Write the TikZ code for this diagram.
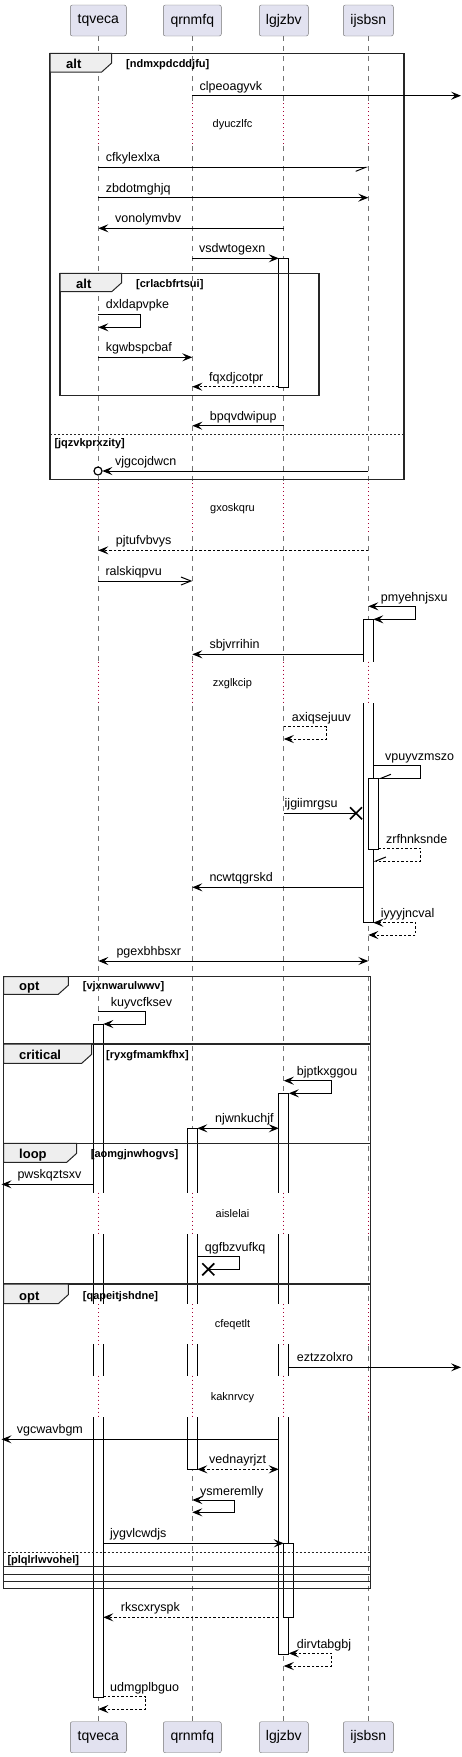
\documentclass[tikz,border=0pt]{standalone}
\usepackage{fontspec}
\setmainfont{Liberation Sans}
\usetikzlibrary{arrows.meta}
\definecolor{actorfill}{RGB}{226,226,240}
\definecolor{delayred}{RGB}{168,0,54}
\definecolor{tabfill}{RGB}{238,238,238}
\tikzstyle{actor}    = [draw=black!55, fill=actorfill, rounded corners=2pt, minimum height=31pt, inner sep=0pt, font=\fontsize{14}{16}\selectfont]
\tikzstyle{lifeline} = [draw=black!55, line width=0.8pt, dash pattern=on 5pt off 5pt]
\tikzstyle{gap}      = [draw=delayred, line width=1pt, dash pattern=on 1pt off 3pt]
\tikzstyle{actbar}   = [draw, fill=white, line width=1pt]
\tikzstyle{msg}      = [line width=1pt, ->]
\tikzstyle{reply}    = [msg, dash pattern=on 2.5pt off 2pt]
\tikzstyle{openmsg}  = [line width=1pt, -{Straight Barb[length=10pt,width=8pt]}]
\tikzstyle{halfmsg}  = [line width=1pt, -{Straight Barb[right,length=10pt,width=8pt]}]
\tikzstyle{lbl}      = [anchor=base west, inner sep=0pt, font=\fontsize{12.5}{14}\selectfont]
\tikzstyle{delaytxt} = [inner sep=0pt, font=\fontsize{11}{13}\selectfont]
\tikzstyle{frame}    = [draw=black!85, line width=1.5pt]
\tikzstyle{tab}      = [draw=black!85, fill=tabfill, line width=1pt]
\tikzstyle{kind}     = [anchor=base west, inner sep=0pt, font=\bfseries\fontsize{13}{15}\selectfont]
\tikzstyle{guard}    = [anchor=base west, inner sep=0pt, font=\bfseries\fontsize{11}{13}\selectfont]
\tikzstyle{elseline} = [draw=black!85, line width=0.8pt, dash pattern=on 2pt off 2pt]
\tikzstyle{destroy}  = [line width=1.6pt]

\begin{document}
\begin{tikzpicture}[x=1pt, y=-1pt, >={Stealth[length=10pt,width=8pt,inset=4pt]}]
    \useasboundingbox (0,0) rectangle (462,1757);

    \node[actor, minimum width=56pt] (tqveca) at (98.3,20.5) {tqveca};
    \node[actor, minimum width=58pt] (qrnmfq) at (192.3,20.5) {qrnmfq};
    \node[actor, minimum width=49pt] (lgjzbv) at (283.8,20.5) {lgjzbv};
    \node[actor, minimum width=50pt] (ijsbsn) at (368.3,20.5) {ijsbsn};
    \node[actor, minimum width=56pt] (tqveca2) at (98.3,1737.2) {tqveca};
    \node[actor, minimum width=58pt] (qrnmfq2) at (192.3,1737.2) {qrnmfq};
    \node[actor, minimum width=49pt] (lgjzbv2) at (283.8,1737.2) {lgjzbv};
    \node[actor, minimum width=50pt] (ijsbsn2) at (368.3,1737.2) {ijsbsn};

    \draw[lifeline] (tqveca) -- (tqveca2);
    \draw[lifeline] (qrnmfq) -- (qrnmfq2);
    \draw[lifeline] (lgjzbv) -- (lgjzbv2);
    \draw[lifeline] (ijsbsn) -- (ijsbsn2);

    \draw[actbar] (278.8,258.3) rectangle (288.8,387.3);
    \draw[actbar] (363.3,619.3) rectangle (373.3,922.7);
    \draw[actbar] (368.3,778.3) rectangle (378.3,849);
    \draw[actbar] (93.3,1024) rectangle (103.3,1697.3);
    \draw[actbar] (278.8,1093.3) rectangle (288.8,1654);
    \draw[actbar] (187.3,1128.3) rectangle (197.3,1469);
    \draw[actbar] (283.8,1543.3) rectangle (293.8,1617.3);

    \fill[white] (0,103.3) rectangle (462,145);
    \fill[white] (0,483.3) rectangle (462,533.3);
    \fill[white] (0,661.7) rectangle (462,703.3);
    \fill[white] (0,1192.7) rectangle (462,1234);
    \fill[white] (0,1304) rectangle (462,1344.3);
    \fill[white] (0,1375.7) rectangle (462,1417.3);
    \draw[gap] (98.3,103.3) -- (98.3,145) (192.3,103.3) -- (192.3,145) (283.8,103.3) -- (283.8,145) (368.3,103.3) -- (368.3,145);
    \draw[gap] (98.3,483.3) -- (98.3,533.3) (192.3,483.3) -- (192.3,533.3) (283.8,483.3) -- (283.8,533.3) (368.3,483.3) -- (368.3,533.3);
    \draw[gap] (98.3,661.7) -- (98.3,703.3) (192.3,661.7) -- (192.3,703.3) (283.8,661.7) -- (283.8,703.3) (368.3,661.7) -- (368.3,703.3);
    \draw[gap] (98.3,1192.7) -- (98.3,1234) (192.3,1192.7) -- (192.3,1234) (283.8,1192.7) -- (283.8,1234) (368.3,1192.7) -- (368.3,1234);
    \draw[gap] (98.3,1304) -- (98.3,1344.3) (192.3,1304) -- (192.3,1344.3) (283.8,1304) -- (283.8,1344.3) (368.3,1304) -- (368.3,1344.3);
    \draw[gap] (98.3,1375.7) -- (98.3,1417.3) (192.3,1375.7) -- (192.3,1417.3) (283.8,1375.7) -- (283.8,1417.3) (368.3,1375.7) -- (368.3,1417.3);
    \node[delaytxt] (d1) at (232.5,125) {dyuczlfc};
    \node[delaytxt] (d2) at (232.5,508.3) {gxoskqru};
    \node[delaytxt] (d3) at (232.5,684) {zxglkcip};
    \node[delaytxt] (d4) at (232.5,1214) {aislelai};
    \node[delaytxt] (d5) at (232.5,1324.3) {cfeqetlt};
    \node[delaytxt] (d6) at (232.5,1397.3) {kaknrvcy};

    \draw[frame] (50,53.3) rectangle (404,479.3);
    \draw[tab] (50,53.3) -- (111.7,53.3) -- (111.7,63) -- (101.7,72) -- (50,72) -- cycle;
    \node[kind] (k1) at (66,68.5) {alt};
    \node[guard] (g1) at (126,67.5) {[ndmxpdcddjfu]};
    \draw[elseline] (50,434) -- (404,434);
    \node[guard] (g2) at (54.3,446) {[jqzvkprxzity]};

    \draw[frame] (60,273.3) rectangle (319,395.7);
    \draw[tab] (60,273.3) -- (121.7,273.3) -- (121.7,282.7) -- (111.7,291.7) -- (60,291.7) -- cycle;
    \node[kind] (k2) at (76,288.2) {alt};
    \node[guard] (g3) at (136,287.2) {[crlacbfrtsui]};

    \draw[frame] (3.5,976.7) rectangle (370.5,1588.3);
    \draw[tab] (3.5,976.7) -- (68.3,976.7) -- (68.3,985.3) -- (58.3,994.3) -- (3.5,994.3) -- cycle;
    \node[kind] (k3) at (19,990.8) {opt};
    \node[guard] (g4) at (82.7,989.8) {[vjxnwarulwwv]};

    \draw[frame] (3.5,1044) rectangle (370.5,1581.7);
    \draw[tab] (3.5,1044) -- (91.7,1044) -- (91.7,1054.3) -- (81.7,1063.3) -- (3.5,1063.3) -- cycle;
    \node[kind] (k4) at (19,1059.8) {critical};
    \node[guard] (g5) at (106,1058.8) {[ryxgfmamkfhx]};

    \draw[frame] (3.5,1143.3) rectangle (370.5,1574.3);
    \draw[tab] (3.5,1143.3) -- (76.7,1143.3) -- (76.7,1153.3) -- (66.7,1162.3) -- (3.5,1162.3) -- cycle;
    \node[kind] (k5) at (19,1158.8) {loop};
    \node[guard] (g6) at (90.7,1157.8) {[aomgjnwhogvs]};

    \draw[frame] (3.5,1284) rectangle (370.5,1566.7);
    \draw[tab] (3.5,1284) -- (68.3,1284) -- (68.3,1294.7) -- (58.3,1303.7) -- (3.5,1303.7) -- cycle;
    \node[kind] (k6) at (19,1300.2) {opt};
    \node[guard] (g7) at (82.7,1299.2) {[qapeitjshdne]};
    \draw[elseline] (3.5,1552.3) -- (370.5,1552.3);
    \node[guard] (g8) at (7.3,1563.3) {[plqlrlwvohel]};

    \draw[msg] (192.3,95.7) -- (461,95.7);
    \node[lbl] (m1) at (199.5,90.2) {clpeoagyvk};
    \draw[halfmsg] (98.3,167.3) -- (368.3,167.3);
    \node[lbl] (m2) at (105.7,161.8) {cfkylexlxa};
    \draw[msg] (98.3,197.7) -- (368.3,197.7);
    \node[lbl] (m3) at (105.7,192.2) {zbdotmghjq};
    \draw[msg] (283.8,228.3) -- (98.3,228.3);
    \node[lbl] (m4) at (115,222.8) {vonolymvbv};
    \draw[msg] (192.3,258.3) -- (278.8,258.3);
    \node[lbl] (m5) at (199,252.8) {vsdwtogexn};
    \draw[msg] (98.3,314.3) -- (140.7,314.3) -- (140.7,327.3) -- (98.3,327.3);
    \node[lbl] (m6) at (105.7,308.8) {dxldapvpke};
    \draw[msg] (98.3,357.3) -- (192.3,357.3);
    \node[lbl] (m7) at (105.7,351.8) {kgwbspcbaf};
    \draw[reply] (278.8,386.7) -- (192.3,386.7);
    \node[lbl] (m8) at (209,381.2) {fqxdjcotpr};
    \draw[msg] (283.8,425.7) -- (192.3,425.7);
    \node[lbl] (m9) at (209.7,420.2) {bpqvdwipup};
    \draw[msg] (368.3,471) -- (102.3,471);
    \draw[line width=1.2pt, fill=white] (98,471) circle (4);
    \node[lbl] (m10) at (115,465.5) {vjgcojdwcn};

    \draw[reply] (368.3,550.3) -- (98.3,550.3);
    \node[lbl] (m11) at (115.7,544.8) {pjtufvbvys};
    \draw[openmsg] (98.3,581) -- (192.3,581);
    \node[lbl] (m12) at (105.3,575.5) {ralskiqpvu};
    \draw[msg, <->] (368.3,606.3) -- (415.7,606.3) -- (415.7,619.3) -- (373.3,619.3);
    \node[lbl] (m13) at (380.7,601) {pmyehnjsxu};
    \draw[msg] (363.3,654.3) -- (192.3,654.3);
    \node[lbl] (m14) at (209.3,648.8) {sbjvrrihin};
    \draw[reply] (283.8,726.7) -- (326.7,726.7) -- (326.7,739) -- (283.8,739);
    \node[lbl] (m15) at (291.7,721.5) {axiqsejuuv};
    \draw[halfmsg] (373.3,765.7) -- (420.7,765.7) -- (420.7,778.3) -- (378.3,778.3);
    \node[lbl] (m16) at (385,760.5) {vpuyvzmszo};
    \draw[line width=1pt] (283.8,813.3) -- (356,813.3);
    \draw[destroy] (350,807.3) -- (362,819.3) (350,819.3) -- (362,807.3);
    \node[lbl] (m17) at (284.5,807.8) {ijgiimrgsu};
    \draw[halfmsg, dash pattern=on 2.5pt off 2pt] (378.3,848.3) -- (420.7,848.3) -- (420.7,861) -- (373.3,861);
    \node[lbl] (m18) at (386,843) {zrfhnksnde};
    \draw[msg] (363.3,887.3) -- (192.3,887.3);
    \node[lbl] (m19) at (209.3,881.8) {ncwtqgrskd};
    \draw[reply, <->] (373.3,922.7) -- (415.7,922.7) -- (415.7,935) -- (368.3,935);
    \node[lbl] (m20) at (380.7,917.5) {iyyyjncval};
    \draw[msg, <->] (98.3,961) -- (368.3,961);
    \node[lbl] (m21) at (116.3,955.5) {pgexbhbsxr};

    \draw[msg] (98.3,1011.3) -- (145.7,1011.3) -- (145.7,1024) -- (103.3,1024);
    \node[lbl] (m22) at (110.7,1006) {kuyvcfksev};
    \draw[msg, <->] (283.8,1080.7) -- (331.7,1080.7) -- (331.7,1093.3) -- (288.8,1093.3);
    \node[lbl] (m23) at (296.7,1075.5) {bjptkxggou};
    \draw[msg, <->] (197.3,1128.3) -- (278.8,1128.3);
    \node[lbl] (m24) at (215,1122.8) {njwnkuchjf};
    \draw[msg] (93.3,1184.3) -- (1.5,1184.3);
    \node[lbl] (m25) at (17.3,1178.8) {pwskqztsxv};
    \draw[line width=1pt] (197.3,1256.7) -- (239.3,1256.7) -- (239.3,1269.3) -- (208.3,1269.3);
    \draw[destroy] (202.3,1263.3) -- (214.3,1275.3) (202.3,1275.3) -- (214.3,1263.3);
    \node[lbl] (m26) at (204.7,1251.5) {qgfbzvufkq};
    \draw[msg] (288.8,1367.3) -- (461,1367.3);
    \node[lbl] (m27) at (296.7,1361.8) {eztzzolxro};
    \draw[msg] (278.8,1439.3) -- (1.5,1439.3);
    \node[lbl] (m28) at (16.7,1433.8) {vgcwavbgm};
    \draw[reply, <->] (197.3,1469.3) -- (278.8,1469.3);
    \node[lbl] (m29) at (209,1463.8) {vednayrjzt};
    \draw[msg, <->] (192.3,1500) -- (234.3,1500) -- (234.3,1512.3) -- (192.3,1512.3);
    \node[lbl] (m30) at (200,1495) {ysmeremlly};
    \draw[msg] (103.3,1543.3) -- (283.8,1543.3);
    \node[lbl] (m31) at (110,1537.8) {jygvlcwdjs};
    \draw[reply] (278.8,1617.3) -- (103.3,1617.3);
    \node[lbl] (m32) at (120.7,1611.8) {rkscxryspk};
    \draw[reply, <->] (288.8,1653.3) -- (331.7,1653.3) -- (331.7,1666) -- (283.8,1666);
    \node[lbl] (m33) at (296.7,1648) {dirvtabgbj};
    \draw[reply] (103.3,1696.7) -- (145.7,1696.7) -- (145.7,1709) -- (98.3,1709);
    \node[lbl] (m34) at (110,1691.5) {udmgplbguo};
\end{tikzpicture}
\end{document}
